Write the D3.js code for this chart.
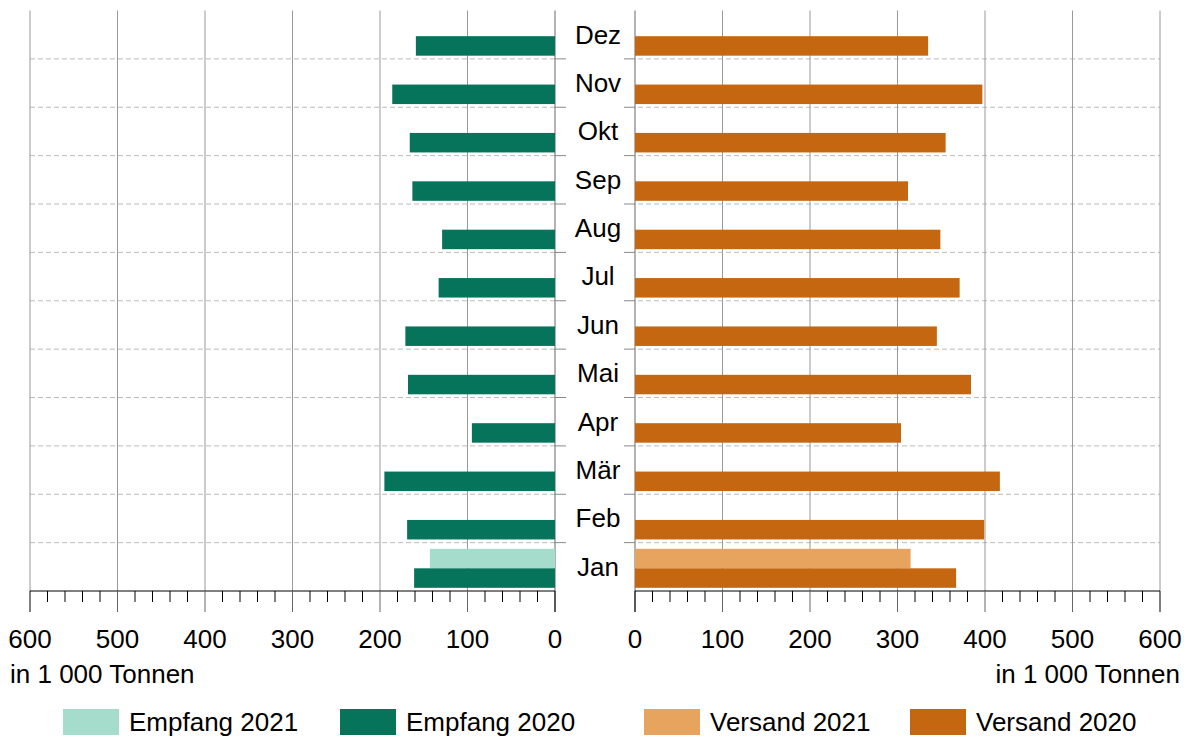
<!DOCTYPE html>
<html>
<head>
<meta charset="UTF-8">
<style>
    body { margin: 0; background: #fff; }
    text { font-family: "Liberation Sans", Arial, sans-serif; fill: #000; }
</style>
</head>
<body>
<script src="https://d3js.org/d3.v7.min.js"></script>
<script>
    let months = ['Jan', 'Feb', 'Mär', 'Apr', 'Mai', 'Jun', 'Jul', 'Aug', 'Sep', 'Okt', 'Nov', 'Dez'];
    let empfang2020 = [161, 169, 195, 95, 168, 171, 133, 129, 163, 166, 186, 159];
    let empfang2021 = [143];
    let versand2020 = [367, 399, 417, 304, 384, 345, 371, 349, 312, 355, 397, 335];
    let versand2021 = [315];
    let ticks = [0, 100, 200, 300, 400, 500, 600];

    let col = { e21: '#a6dccb', e20: '#06745a', v21: '#e6a45e', v20: '#c56710' };
    let fs = '26px';

    let s = d3.select('body').append('svg').attr('width', 1192).attr('height', 740);

    let yTop = 10.5, yBot = 591;
    let xl = d3.scaleLinear().domain([0, 600]).range([555, 30]);
    let xr = d3.scaleLinear().domain([0, 600]).range([635, 1160]);
    let y = d3.scaleBand().domain(months.slice().reverse()).range([yTop, yBot]);
    let rh = y.bandwidth();

    // dashed row separators
    months.forEach(m => {
        if (m === 'Jan') return;
        let yy = y(m) + rh;
        s.append('line').attr('x1', 30).attr('x2', 1160).attr('y1', yy).attr('y2', yy)
            .attr('stroke', '#bbb').attr('stroke-dasharray', '5,3');
    });
    // vertical grid
    [xl, xr].forEach(x => {
        ticks.forEach(t => {
            s.append('line').attr('x1', x(t)).attr('x2', x(t)).attr('y1', yTop).attr('y2', t === 0 ? 612 : yBot)
                .attr('stroke', t === 0 ? '#666' : '#999');
        });
    });
    // center label area
    s.append('rect').attr('x', 556).attr('y', 0).attr('width', 78).attr('height', yBot).attr('fill', '#fff');
    months.forEach(m => {
        if (m === 'Jan') return;
        let yy = y(m) + rh;
        s.append('line').attr('x1', 555).attr('x2', 566).attr('y1', yy).attr('y2', yy).attr('stroke', '#888');
        s.append('line').attr('x1', 624).attr('x2', 635).attr('y1', yy).attr('y2', yy).attr('stroke', '#888');
    });

    let bh = 19.5;
    function bars(data, x, left, off, color) {
        s.selectAll(null).data(data).enter().append('rect')
            .attr('x', d => left ? x(d) : x(0))
            .attr('width', d => Math.abs(x(d) - x(0)))
            .attr('y', (d, i) => y(months[i]) + off)
            .attr('height', bh)
            .attr('fill', color);
    }
    bars(empfang2021, xl, true, rh / 2 - bh + 1.5, col.e21);
    bars(empfang2020, xl, true, rh / 2 + 1.5, col.e20);
    bars(versand2021, xr, false, rh / 2 - bh + 1.5, col.v21);
    bars(versand2020, xr, false, rh / 2 + 1.5, col.v20);

    s.selectAll(null).data(months).enter().append('text')
        .attr('x', 598).attr('y', d => y(d) + 24)
        .attr('text-anchor', 'middle').attr('dy', '.35em')
        .style('font-size', fs).text(d => d);

    // axes
    [xl, xr].forEach(x => {
        s.append('line').attr('x1', x(0)).attr('x2', x(600)).attr('y1', yBot).attr('y2', yBot).attr('stroke', '#000');
        d3.range(0, 601, 20).forEach(t => {
            let major = t % 100 === 0;
            s.append('line').attr('x1', x(t)).attr('x2', x(t)).attr('y1', yBot)
                .attr('y2', major ? 612 : 602).attr('stroke', major && t !== 0 && t !== 600 ? '#666' : '#000');
        });
        s.selectAll(null).data(ticks).enter().append('text')
            .attr('x', d => x(d)).attr('y', 648).attr('text-anchor', 'middle')
            .style('font-size', fs).text(d => d);
    });
    s.append('text').attr('x', 10).attr('y', 683).style('font-size', fs).text('in 1 000 Tonnen');
    s.append('text').attr('x', 1180).attr('y', 683).attr('text-anchor', 'end').style('font-size', fs).text('in 1 000 Tonnen');

    // legend
    let legend = [
        { label: 'Empfang 2021', c: col.e21, x: 63 },
        { label: 'Empfang 2020', c: col.e20, x: 340 },
        { label: 'Versand 2021', c: col.v21, x: 644 },
        { label: 'Versand 2020', c: col.v20, x: 910 }
    ];
    let lg = s.selectAll('.lg').data(legend).enter().append('g').attr('class', 'lg');
    lg.append('rect').attr('x', d => d.x).attr('y', 709).attr('width', 56).attr('height', 26).attr('fill', d => d.c);
    lg.append('text').attr('x', d => d.x + 66).attr('y', 731).style('font-size', fs).text(d => d.label);
</script>
</body>
</html>
